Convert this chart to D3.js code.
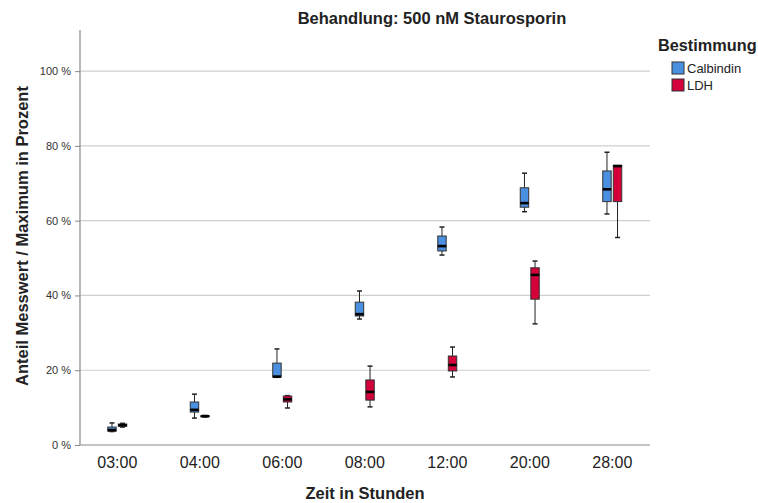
<!DOCTYPE html>
<html>
<head>
<meta charset="utf-8">
<script src="https://cdn.jsdelivr.net/npm/d3@7"></script>
<style>
  html, body { margin: 0; padding: 0; background: #fff; }
  svg { display: block; font-family: Arial, "Liberation Sans", sans-serif; }
</style>
</head>
<body>
<svg id="chart" width="758" height="503"></svg>
<script>
// Zeitpunkte der Messung
const categories = ["03:00", "04:00", "06:00", "08:00", "12:00", "20:00", "28:00"];
const seriesNames = ["Calbindin", "LDH"];
// Boxplot-Kennwerte je Zeitpunkt: [Minimum, Q1, Median, Q3, Maximum] in %
const calbindinStats = [
  [3.6, 3.7, 4.0, 4.8, 5.9],
  [7.2, 8.8, 9.4, 11.5, 13.6],
  [18.1, 18.2, 18.3, 21.9, 25.7],
  [33.7, 34.5, 35.0, 38.2, 41.2],
  [50.8, 51.9, 53.2, 55.9, 58.3],
  [62.4, 63.6, 64.7, 68.8, 72.7],
  [61.8, 65.1, 68.4, 73.3, 78.3]
];
const ldhStats = [
  [4.8, 5.0, 5.3, 5.6, 5.8],
  [7.5, 7.6, 7.7, 7.8, 7.9],
  [9.9, 11.5, 12.2, 13.1, 13.2],
  [10.2, 12.0, 14.2, 17.4, 21.1],
  [18.2, 19.8, 21.4, 23.8, 26.2],
  [32.4, 39.0, 45.5, 47.4, 49.2],
  [55.5, 65.1, 74.6, 74.8, 74.8]
];
const yTicks = [0, 20, 40, 60, 80, 100];
const colors = ["#4a8fe0", "#d3003b"];

const svg = d3.select("#chart");
const plot = { left: 80, right: 650, top: 30, bottom: 445 };

const x = d3.scaleBand().domain(categories).range([76, 653.5]).padding(0);
const sub = d3.scaleBand().domain(seriesNames).range([-9.5, 9.5]).paddingInner(0.2);
const y = d3.scaleLinear().domain([0, 111]).range([plot.bottom, plot.top]);

// Gitterlinien
svg.append("g").selectAll("line").data(yTicks.filter(d => d > 0)).join("line")
  .attr("x1", plot.left).attr("x2", plot.right)
  .attr("y1", d => y(d)).attr("y2", d => y(d))
  .attr("stroke", "#cfcfcf").attr("stroke-width", 1.2);

// Y-Achse
const yAxis = d3.axisLeft(y).tickValues(yTicks).tickSize(5).tickPadding(4)
  .tickFormat(d => d + " %");
const gy = svg.append("g").attr("transform", `translate(${plot.left},0)`).call(yAxis);
gy.select(".domain").remove();
gy.selectAll(".tick line").attr("stroke", "#888");
gy.selectAll(".tick text").attr("fill", "#333").style("font-size", "11px")
  .style("font-family", "Arial, 'Liberation Sans', sans-serif");

// X-Achse
const xAxis = d3.axisBottom(x).tickSize(0).tickPadding(12);
const gx = svg.append("g").attr("transform", `translate(0,${plot.bottom})`).call(xAxis);
gx.select(".domain").remove();
gx.selectAll(".tick text").attr("fill", "#222").style("font-size", "16px")
  .style("font-family", "Arial, 'Liberation Sans', sans-serif");

// Achsenlinien
svg.append("line").attr("x1", plot.left).attr("x2", plot.left)
  .attr("y1", plot.top).attr("y2", plot.bottom).attr("stroke", "#888").attr("stroke-width", 1.2);
svg.append("line").attr("x1", plot.left).attr("x2", plot.right)
  .attr("y1", plot.bottom).attr("y2", plot.bottom).attr("stroke", "#888").attr("stroke-width", 1.2);

// Boxplots
const series = [calbindinStats, ldhStats];
series.forEach((stats, si) => {
  const g = svg.append("g");
  const bw = sub.bandwidth();
  stats.forEach((s, i) => {
    const [mn, q1, md, q3, mx] = s;
    const x0 = x(categories[i]) + x.bandwidth() / 2 + sub(seriesNames[si]);
    const cx = x0 + bw / 2;
    // Whisker
    g.append("line").attr("x1", cx).attr("x2", cx).attr("y1", y(mx)).attr("y2", y(q3))
      .attr("stroke", "#222").attr("stroke-width", 1);
    g.append("line").attr("x1", cx).attr("x2", cx).attr("y1", y(q1)).attr("y2", y(mn))
      .attr("stroke", "#222").attr("stroke-width", 1);
    if (mx > q3) g.append("line").attr("x1", cx - 2.5).attr("x2", cx + 2.5)
      .attr("y1", y(mx)).attr("y2", y(mx)).attr("stroke", "#222").attr("stroke-width", 1.5);
    if (mn < q1) g.append("line").attr("x1", cx - 2.5).attr("x2", cx + 2.5)
      .attr("y1", y(mn)).attr("y2", y(mn)).attr("stroke", "#222").attr("stroke-width", 1.5);
    // Box
    g.append("rect").attr("x", x0).attr("width", bw)
      .attr("y", y(q3)).attr("height", Math.max(0.5, y(q1) - y(q3)))
      .attr("fill", colors[si]).attr("stroke", "#333").attr("stroke-width", 1);
    // Median
    g.append("line").attr("x1", x0).attr("x2", x0 + bw).attr("y1", y(md)).attr("y2", y(md))
      .attr("stroke", "#000").attr("stroke-width", 2.6);
  });
});

// Titel
svg.append("text").attr("x", 432).attr("y", 24).attr("text-anchor", "middle")
  .style("font-size", "16.5px").style("font-weight", "bold").attr("fill", "#222")
  .text("Behandlung: 500 nM Staurosporin");

svg.append("text").attr("x", 365).attr("y", 499).attr("text-anchor", "middle")
  .style("font-size", "16.5px").style("font-weight", "bold").attr("fill", "#222")
  .text("Zeit in Stunden");

svg.append("text").attr("transform", "translate(28,236) rotate(-90)").attr("text-anchor", "middle")
  .style("font-size", "16.5px").style("font-weight", "bold").attr("fill", "#222")
  .text("Anteil Messwert / Maximum in Prozent");

// Legende
const legend = svg.append("g");
legend.append("text").attr("x", 658).attr("y", 51)
  .style("font-size", "16.3px").style("font-weight", "bold").attr("fill", "#222")
  .text("Bestimmung");
seriesNames.forEach((name, i) => {
  const ly = 62 + i * 17;
  legend.append("rect").attr("x", 672).attr("y", ly).attr("width", 12).attr("height", 12)
    .attr("fill", colors[i]).attr("stroke", "#333").attr("stroke-width", 1);
  legend.append("text").attr("x", 687).attr("y", ly + 11)
    .style("font-size", "13px").attr("fill", "#222").text(name);
});
</script>
</body>
</html>
